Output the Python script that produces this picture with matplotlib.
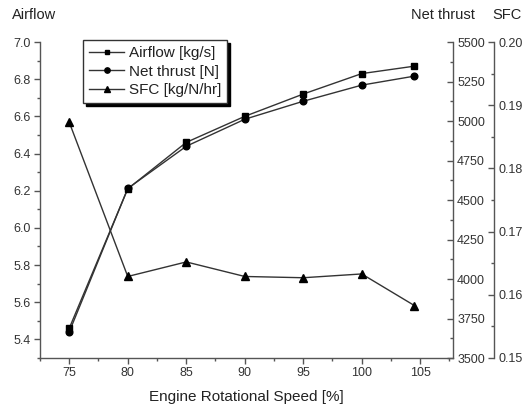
import matplotlib
matplotlib.use("Agg")
import matplotlib.pyplot as plt
from matplotlib.ticker import MultipleLocator

plt.rcParams['font.family'] = ['Liberation Sans', 'DejaVu Sans']

speed = [75, 80, 85, 90, 95, 100, 104.5]
airflow = [5.46, 6.21, 6.46, 6.60, 6.72, 6.83, 6.87]
thrust = [3665, 4573, 4840, 5011, 5125, 5227, 5284]
sfc = [0.1873, 0.1629, 0.1652, 0.1629, 0.1627, 0.1633, 0.1583]

xticks = [75, 80, 85, 90, 95, 100, 105]

line_c = '#333333'
spine_c = '#555555'
text_c = '#333333'

fig = plt.figure(figsize=(5.28, 4.11), dpi=100)
ax = fig.add_axes([40/528, 53/411, 413/528, 316/411])
ax2 = ax.twinx()
ax3 = ax.twinx()
ax3.spines['right'].set_position(('outward', 41*0.72))

for a in (ax, ax2, ax3):
    a.spines['top'].set_visible(False)
    for s in a.spines.values():
        s.set_color(spine_c)
        s.set_linewidth(1.0)
ax.spines['right'].set_visible(False)
ax2.spines['left'].set_visible(False)
ax3.spines['left'].set_visible(False)
ax2.spines['bottom'].set_visible(False)
ax3.spines['bottom'].set_visible(False)

h1, = ax.plot(speed, airflow, '-', color=line_c, lw=1.0, marker='s', ms=4.2,
              mfc='black', mec='black', label='Airflow [kg/s]')
h2, = ax2.plot(speed, thrust, '-', color=line_c, lw=1.0, marker='o', ms=4.8,
               mfc='black', mec='black', label='Net thrust [N]')
h3, = ax3.plot(speed, sfc, '-', color=line_c, lw=1.0, marker='^', ms=5.5,
               mfc='black', mec='black', label='SFC [kg/N/hr]')

ax.set_xlim(72.5, 107.8)
ax.set_ylim(5.3, 7.0)
ax2.set_ylim(3500, 5500)
ax3.set_ylim(0.15, 0.20)

ax.set_xticks(xticks)
ax.xaxis.set_minor_locator(MultipleLocator(2.5))
ax.yaxis.set_minor_locator(MultipleLocator(0.1))
ax.set_yticks([5.4, 5.6, 5.8, 6.0, 6.2, 6.4, 6.6, 6.8, 7.0])
ax2.yaxis.set_major_locator(MultipleLocator(250))
ax2.yaxis.set_minor_locator(MultipleLocator(125))
ax3.yaxis.set_major_locator(MultipleLocator(0.01))
ax3.yaxis.set_minor_locator(MultipleLocator(0.005))
ax.yaxis.set_major_formatter(matplotlib.ticker.FormatStrFormatter('%.1f'))
ax3.yaxis.set_major_formatter(matplotlib.ticker.FormatStrFormatter('%.2f'))

ax.tick_params(axis='both', which='major', direction='out', length=4, width=1,
               color=spine_c, labelsize=9, labelcolor=text_c, pad=2.5)
ax.tick_params(axis='both', which='minor', direction='out', length=2.5, width=1,
               color=spine_c)
for a in (ax2, ax3):
    a.tick_params(axis='y', which='major', direction='in', length=4, width=1,
                  color=spine_c, labelsize=9, labelcolor=text_c, pad=3)
    a.tick_params(axis='y', which='minor', direction='in', length=2.5, width=1,
                  color=spine_c)

ax.set_xlabel('Engine Rotational Speed [%]', fontsize=11, color='#222222', labelpad=8)

fig.text(12/528, 1 - 15/411, 'Airflow', fontsize=10.5, color='#222222', va='center', ha='left')
fig.text(443/528, 1 - 15/411, 'Net thrust', fontsize=10.5, color='#222222', va='center', ha='center')
fig.text(507/528, 1 - 15/411, 'SFC', fontsize=10.5, color='#222222', va='center', ha='center')

leg = ax.legend(handles=[h1, h2, h3], loc='upper left', bbox_to_anchor=(0.104, 1.006),
                borderaxespad=0, fancybox=False, framealpha=1, edgecolor='#333333',
                fontsize=11, handlelength=2.3, handletextpad=0.3, labelspacing=0.3,
                borderpad=0.4, markerscale=0.8,
                shadow={'facecolor': 'black', 'edgecolor': 'black', 'alpha': 1})
leg.get_frame().set_linewidth(1.0)
for t in leg.get_texts():
    t.set_color('#222222')
leg.set_zorder(10)
ax.set_zorder(3)
ax.patch.set_visible(False)

fig.savefig('out.png', dpi=100)
